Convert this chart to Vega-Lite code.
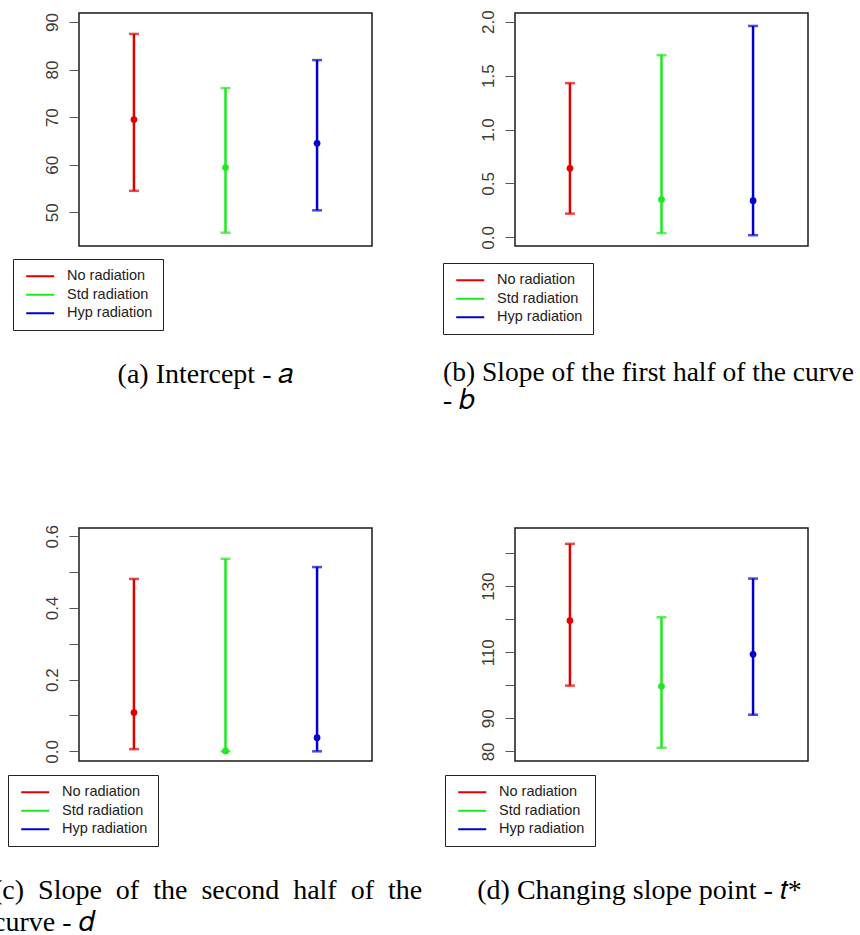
{
  "$schema": "https://vega.github.io/schema/vega-lite/v6.json",
  "background": "white",
  "padding": {"left": -8, "top": 9, "right": 0, "bottom": 0},
  "columns": 2,
  "spacing": {"row": 282, "column": 143},
  "bounds": "flush",
  "resolve": {"scale": {"color": "independent"}, "legend": {"color": "independent"}},
  "datasets": {
    "intercept": [
      {"group": "No radiation", "idx": 1, "lo": 54.5, "mean": 69.5, "hi": 87.5},
      {"group": "Std radiation", "idx": 2, "lo": 45.7, "mean": 59.4, "hi": 76.1},
      {"group": "Hyp radiation", "idx": 3, "lo": 50.4, "mean": 64.5, "hi": 82.0}
    ],
    "slope_first": [
      {"group": "No radiation", "idx": 1, "lo": 0.22, "mean": 0.64, "hi": 1.43},
      {"group": "Std radiation", "idx": 2, "lo": 0.04, "mean": 0.35, "hi": 1.69},
      {"group": "Hyp radiation", "idx": 3, "lo": 0.02, "mean": 0.34, "hi": 1.96}
    ],
    "slope_second": [
      {"group": "No radiation", "idx": 1, "lo": 0.006, "mean": 0.108, "hi": 0.481},
      {"group": "Std radiation", "idx": 2, "lo": 0.0, "mean": 0.001, "hi": 0.537},
      {"group": "Hyp radiation", "idx": 3, "lo": 0.0, "mean": 0.038, "hi": 0.514}
    ],
    "change_point": [
      {"group": "No radiation", "idx": 1, "lo": 99.9, "mean": 119.6, "hi": 142.8},
      {"group": "Std radiation", "idx": 2, "lo": 81.1, "mean": 99.7, "hi": 120.6},
      {"group": "Hyp radiation", "idx": 3, "lo": 91.1, "mean": 109.4, "hi": 132.3}
    ]
  },
  "concat": [
    {
      "width": 293,
      "height": 233,
      "data": {"name": "intercept"},
      "title": {"text": "(a) Intercept - 𝑎", "anchor": "middle", "dx": -20, "offset": 30},
      "encoding": {
        "x": {"field": "idx", "type": "quantitative", "scale": {"domain": [0.4, 3.6]}, "axis": null}
      },
      "layer": [
        {
          "mark": {"type": "rule", "strokeWidth": 2.5},
          "encoding": {
            "y": {"field": "lo", "type": "quantitative", "scale": {"domain": [42.9, 91.9], "nice": false, "zero": false}, "axis": {"values": [50, 60, 70, 80, 90], "tickCount": 20}},
            "y2": {"field": "hi"},
            "color": {"field": "group", "type": "nominal", "scale": {"domain": ["No radiation", "Std radiation", "Hyp radiation"], "range": ["#e00000", "#1ee81e", "#0000d0"]}, "legend": {"title": null, "orient": "none", "legendX": -66, "legendY": 246, "symbolType": "M-1.15,0H6.85", "symbolSize": 49}}
          }
        },
        {
          "mark": {"type": "tick", "orient": "horizontal", "size": 10, "thickness": 2.5},
          "encoding": {"y": {"field": "lo", "type": "quantitative"}, "color": {"field": "group", "type": "nominal", "legend": null}}
        },
        {
          "mark": {"type": "tick", "orient": "horizontal", "size": 10, "thickness": 2.5},
          "encoding": {"y": {"field": "hi", "type": "quantitative"}, "color": {"field": "group", "type": "nominal", "legend": null}}
        },
        {
          "mark": {"type": "point", "filled": true, "size": 45, "opacity": 1},
          "encoding": {"y": {"field": "mean", "type": "quantitative"}, "color": {"field": "group", "type": "nominal", "legend": null}}
        }
      ]
    },
    {
      "width": 293,
      "height": 233,
      "data": {"name": "slope_first"},
      "title": {"text": ["(b) Slope of the first half of the curve", "- 𝑏"], "anchor": "start", "dx": -72, "offset": 24, "lineHeight": 28, "fontSize": 27.5},
      "encoding": {
        "x": {"field": "idx", "type": "quantitative", "scale": {"domain": [0.4, 3.6]}, "axis": null}
      },
      "layer": [
        {
          "mark": {"type": "rule", "strokeWidth": 2.5},
          "encoding": {
            "y": {"field": "lo", "type": "quantitative", "scale": {"domain": [-0.08, 2.08], "nice": false, "zero": false}, "axis": {"values": [0, 0.5, 1, 1.5, 2], "format": ".1f", "tickCount": 20}},
            "y2": {"field": "hi"},
            "color": {"field": "group", "type": "nominal", "scale": {"domain": ["No radiation", "Std radiation", "Hyp radiation"], "range": ["#e00000", "#1ee81e", "#0000d0"]}, "legend": {"title": null, "orient": "none", "legendX": -72, "legendY": 250, "symbolType": "M-1.15,0H6.85", "symbolSize": 49}}
          }
        },
        {
          "mark": {"type": "tick", "orient": "horizontal", "size": 10, "thickness": 2.5},
          "encoding": {"y": {"field": "lo", "type": "quantitative"}, "color": {"field": "group", "type": "nominal", "legend": null}}
        },
        {
          "mark": {"type": "tick", "orient": "horizontal", "size": 10, "thickness": 2.5},
          "encoding": {"y": {"field": "hi", "type": "quantitative"}, "color": {"field": "group", "type": "nominal", "legend": null}}
        },
        {
          "mark": {"type": "point", "filled": true, "size": 45, "opacity": 1},
          "encoding": {"y": {"field": "mean", "type": "quantitative"}, "color": {"field": "group", "type": "nominal", "legend": null}}
        }
      ]
    },
    {
      "width": 293,
      "height": 233,
      "data": {"name": "slope_second"},
      "title": {"text": ["(c)\u2002Slope\u2002of\u2002the\u2002second\u2002half\u2002of\u2002the", "curve - 𝑑"], "anchor": "start", "dx": -86, "offset": 30, "lineHeight": 32},
      "encoding": {
        "x": {"field": "idx", "type": "quantitative", "scale": {"domain": [0.4, 3.6]}, "axis": null}
      },
      "layer": [
        {
          "mark": {"type": "rule", "strokeWidth": 2.5},
          "encoding": {
            "y": {"field": "lo", "type": "quantitative", "scale": {"domain": [-0.027, 0.623], "nice": false, "zero": false}, "axis": {"values": [0, 0.1, 0.2, 0.3, 0.4, 0.5, 0.6], "tickCount": 20, "format": ".1f", "labelExpr": "indexof(['0.0', '0.2', '0.4', '0.6'], datum.label) >= 0 ? datum.label : ''"}},
            "y2": {"field": "hi"},
            "color": {"field": "group", "type": "nominal", "scale": {"domain": ["No radiation", "Std radiation", "Hyp radiation"], "range": ["#e00000", "#1ee81e", "#0000d0"]}, "legend": {"title": null, "orient": "none", "legendX": -71, "legendY": 247, "symbolType": "M-1.15,0H6.85", "symbolSize": 49}}
          }
        },
        {
          "mark": {"type": "tick", "orient": "horizontal", "size": 10, "thickness": 2.5},
          "encoding": {"y": {"field": "lo", "type": "quantitative"}, "color": {"field": "group", "type": "nominal", "legend": null}}
        },
        {
          "mark": {"type": "tick", "orient": "horizontal", "size": 10, "thickness": 2.5},
          "encoding": {"y": {"field": "hi", "type": "quantitative"}, "color": {"field": "group", "type": "nominal", "legend": null}}
        },
        {
          "mark": {"type": "point", "filled": true, "size": 45, "opacity": 1},
          "encoding": {"y": {"field": "mean", "type": "quantitative"}, "color": {"field": "group", "type": "nominal", "legend": null}}
        }
      ]
    },
    {
      "width": 293,
      "height": 233,
      "data": {"name": "change_point"},
      "title": {"text": "(d) Changing slope point - 𝑡*", "anchor": "middle", "dx": -22, "offset": 30},
      "encoding": {
        "x": {"field": "idx", "type": "quantitative", "scale": {"domain": [0.4, 3.6]}, "axis": null}
      },
      "layer": [
        {
          "mark": {"type": "rule", "strokeWidth": 2.5},
          "encoding": {
            "y": {"field": "lo", "type": "quantitative", "scale": {"domain": [77.1, 147.6], "nice": false, "zero": false}, "axis": {"values": [80, 90, 100, 110, 120, 130, 140], "tickCount": 20, "labelExpr": "indexof(['80', '90', '110', '130'], datum.label) >= 0 ? datum.label : ''"}},
            "y2": {"field": "hi"},
            "color": {"field": "group", "type": "nominal", "scale": {"domain": ["No radiation", "Std radiation", "Hyp radiation"], "range": ["#e00000", "#1ee81e", "#0000d0"]}, "legend": {"title": null, "orient": "none", "legendX": -70, "legendY": 247, "symbolType": "M-1.15,0H6.85", "symbolSize": 49}}
          }
        },
        {
          "mark": {"type": "tick", "orient": "horizontal", "size": 10, "thickness": 2.5},
          "encoding": {"y": {"field": "lo", "type": "quantitative"}, "color": {"field": "group", "type": "nominal", "legend": null}}
        },
        {
          "mark": {"type": "tick", "orient": "horizontal", "size": 10, "thickness": 2.5},
          "encoding": {"y": {"field": "hi", "type": "quantitative"}, "color": {"field": "group", "type": "nominal", "legend": null}}
        },
        {
          "mark": {"type": "point", "filled": true, "size": 45, "opacity": 1},
          "encoding": {"y": {"field": "mean", "type": "quantitative"}, "color": {"field": "group", "type": "nominal", "legend": null}}
        }
      ]
    }
  ],
  "config": {
    "font": "Liberation Sans",
    "view": {"stroke": "#1a1a1a", "strokeWidth": 1.5},
    "axis": {
      "title": null,
      "grid": false,
      "domain": false,
      "tickSize": 10,
      "tickWidth": 1,
      "tickColor": "#555",
      "labelAngle": -90,
      "labelAlign": "center",
      "labelBaseline": "alphabetic",
      "labelPadding": 12,
      "labelFont": "Liberation Sans",
      "labelFontSize": 17,
      "labelColor": "#3a3a3a",
      "labelOverlap": false,
      "labelFlush": false,
      "labelBound": false
    },
    "legend": {
      "symbolStrokeWidth": 2,
      "labelFont": "Liberation Sans",
      "labelFontSize": 14.5,
      "labelColor": "#222",
      "labelOffset": 29.5,
      "rowPadding": 3.5,
      "padding": 10,
      "strokeColor": "#222",
      "strokeWidth": 1,
      "fillColor": "#ffffff"
    },
    "title": {
      "orient": "bottom",
      "frame": "group",
      "font": "Liberation Serif",
      "fontSize": 28,
      "fontWeight": "normal",
      "color": "#000000",
      "lineHeight": 30
    }
  }
}
